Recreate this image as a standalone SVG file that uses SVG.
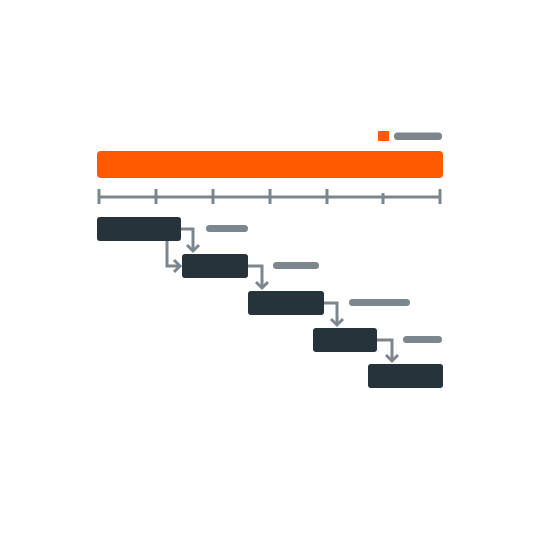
<svg xmlns="http://www.w3.org/2000/svg" width="540" height="540" viewBox="0 0 540 540">
<defs>
<style>
.bar{fill:#27333b}
.lbl{fill:#7b868d}
.axis{stroke:#7b868d;stroke-width:3;fill:none}
.conn{stroke:#7b868d;stroke-width:3;fill:none;stroke-linejoin:miter}
</style>
<marker id="ah" markerUnits="userSpaceOnUse" markerWidth="16" markerHeight="16" viewBox="-8 -8 16 16" refX="0" refY="0" orient="auto">
<path d="M-6,-6 L0,0 L-6,6" fill="none" stroke="#7b868d" stroke-width="3"/>
</marker>
</defs>
<rect width="540" height="540" fill="#ffffff"/>
<g id="legend">
<rect x="378" y="131" width="11" height="10" fill="#ff5a00"/>
<rect x="394" y="132.5" width="48" height="7.5" rx="3.5" class="lbl"/>
</g>
<g id="summary">
<rect x="97" y="151" width="346" height="27" rx="4" fill="#ff5a00"/>
</g>
<g id="axis" class="axis">
<line x1="99" y1="197" x2="440" y2="197"/>
<line x1="99" y1="189" x2="99" y2="204"/>
<line x1="156" y1="189" x2="156" y2="204"/>
<line x1="213" y1="189" x2="213" y2="204"/>
<line x1="270" y1="189" x2="270" y2="204"/>
<line x1="327" y1="189" x2="327" y2="204"/>
<line x1="383" y1="193" x2="383" y2="204"/>
<line x1="440" y1="189" x2="440" y2="204"/>
</g>
<g id="task1"><rect x="97" y="217" width="84" height="24" rx="3" class="bar"/><rect x="206" y="225" width="42" height="7" rx="3.5" class="lbl"/></g>
<g id="task2"><rect x="182" y="254" width="66" height="24" rx="3" class="bar"/><rect x="273" y="262" width="46" height="7" rx="3.5" class="lbl"/></g>
<g id="task3"><rect x="248" y="291" width="76" height="24" rx="3" class="bar"/><rect x="349" y="299" width="61" height="7" rx="3.5" class="lbl"/></g>
<g id="task4"><rect x="313" y="328" width="64" height="24" rx="3" class="bar"/><rect x="403" y="336" width="39" height="7" rx="3.5" class="lbl"/></g>
<g id="task5"><rect x="368" y="364" width="75" height="24" rx="3" class="bar"/></g>
<g id="connectors" class="conn">
<path d="M181,229 H193 V251" marker-end="url(#ah)"/>
<path d="M167,241 V266 H180" marker-end="url(#ah)"/>
<path d="M248,266 H262 V288" marker-end="url(#ah)"/>
<path d="M324,303 H337 V325" marker-end="url(#ah)"/>
<path d="M377,340 H392 V361" marker-end="url(#ah)"/>
</g>
</svg>
